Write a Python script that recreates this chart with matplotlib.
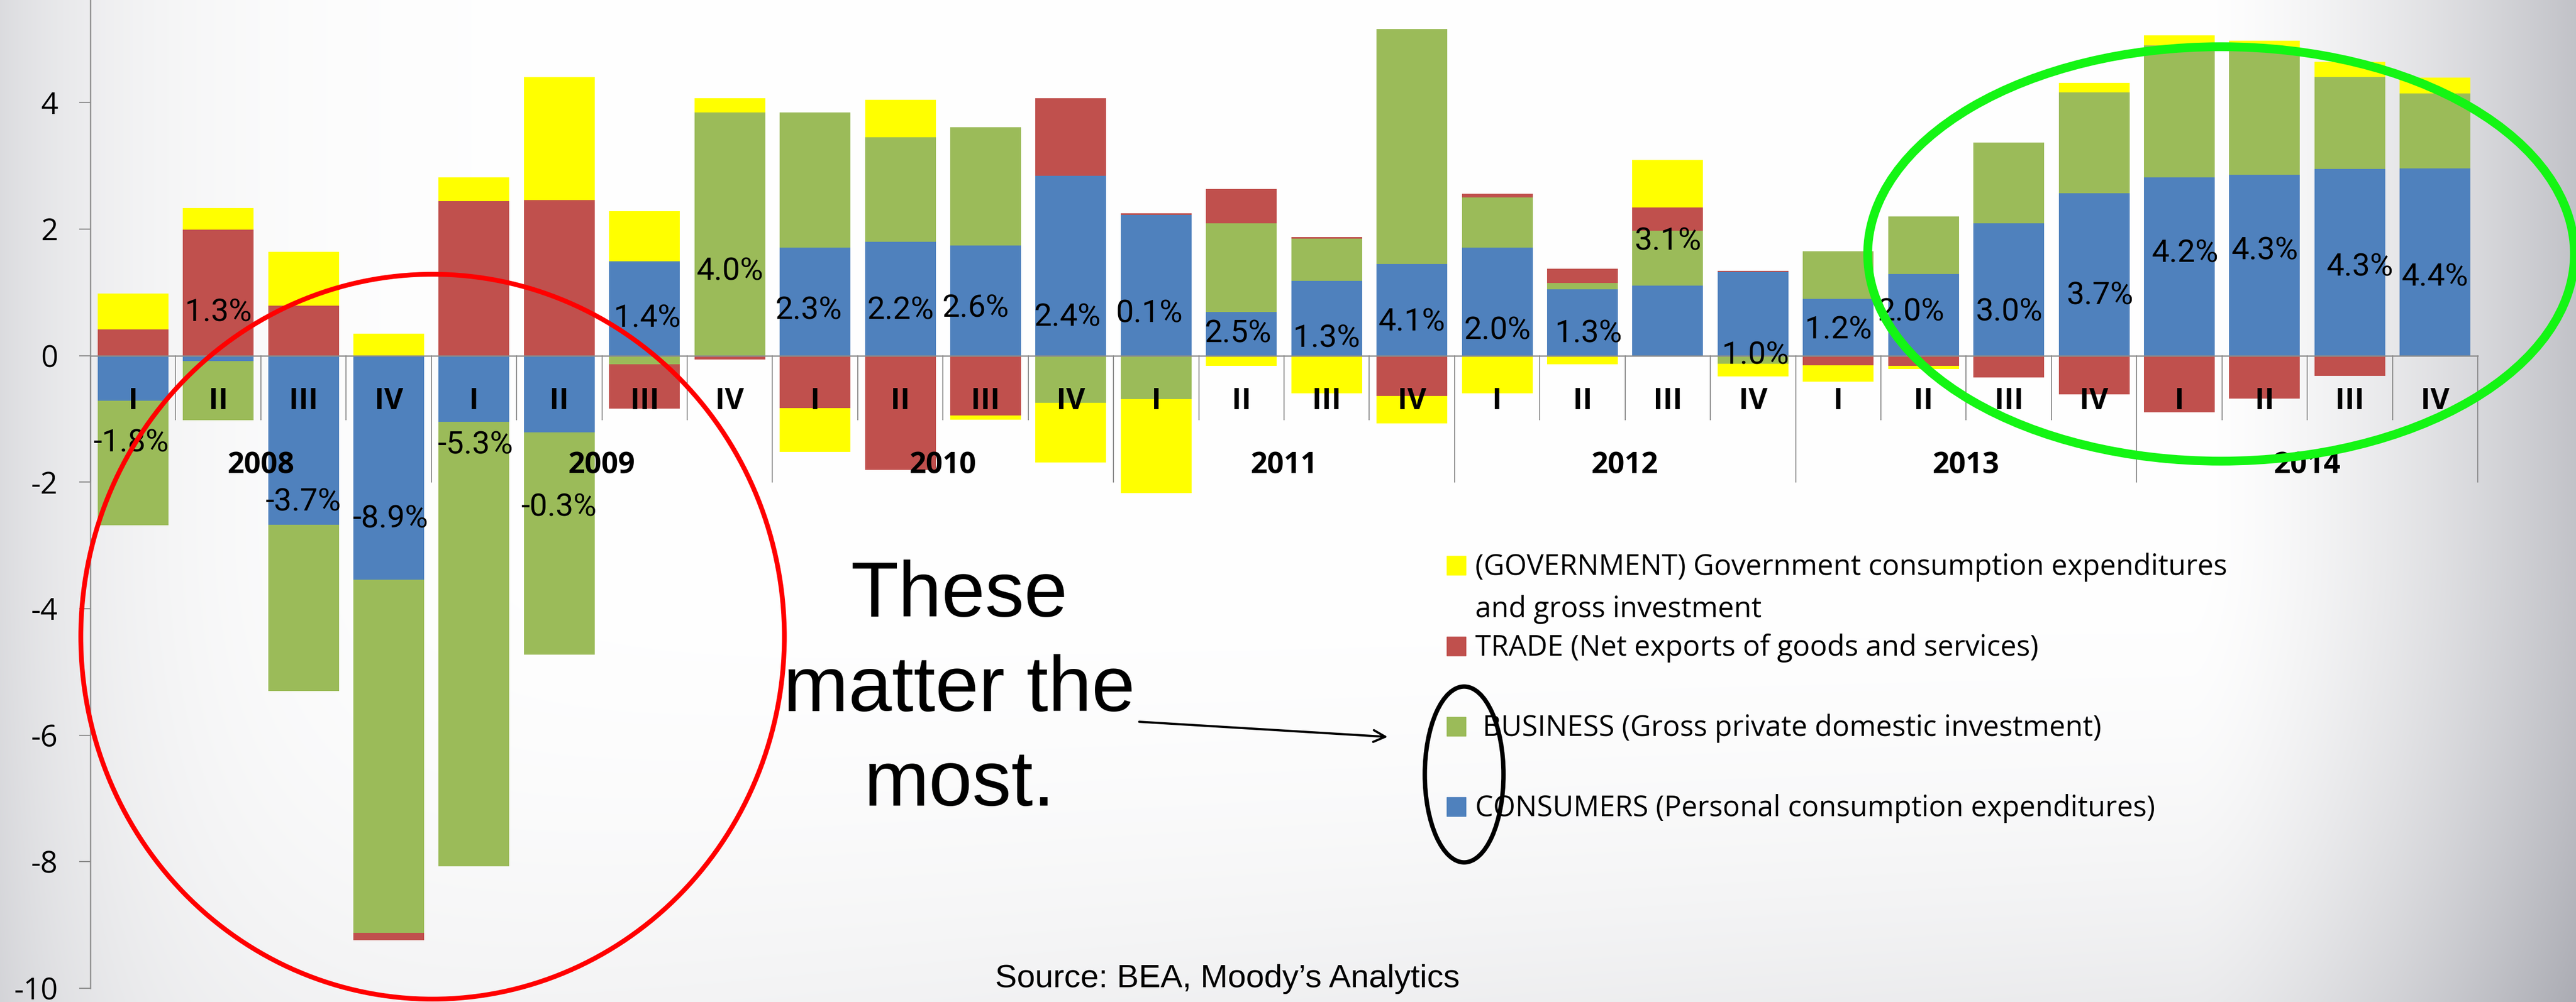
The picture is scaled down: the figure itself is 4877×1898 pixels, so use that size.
import numpy as np
import matplotlib.pyplot as plt
from matplotlib.patches import Ellipse, Rectangle

# contributions to real GDP growth, percentage points, 2008 Q1 .. 2014 Q4
consumers = [-0.71, -0.09, -2.67, -3.54, -1.05, -1.21, 1.49, 0.00,
             1.71, 1.80, 1.74, 2.84, 2.22, 0.69, 1.18, 1.45,
             1.71, 1.05, 1.11, 1.32, 0.90, 1.29, 2.09, 2.57,
             2.82, 2.86, 2.95, 2.96]
business = [-1.97, -0.93, -2.63, -5.58, -7.02, -3.52, -0.14, 3.84,
            2.13, 1.65, 1.87, -0.75, -0.69, 1.40, 0.67, 3.71,
            0.79, 0.10, 0.86, -0.13, 0.75, 0.91, 1.28, 1.59,
            2.08, 2.00, 1.45, 1.18]
trade = [0.41, 1.99, 0.79, -0.12, 2.44, 2.46, -0.70, -0.06,
         -0.83, -1.81, -0.95, 1.23, 0.03, 0.54, 0.02, -0.64,
         0.06, 0.22, 0.37, 0.02, -0.15, -0.165, -0.35, -0.61,
         -0.90, -0.68, -0.32, 0.00]
government = [0.57, 0.34, 0.85, 0.35, 0.38, 1.94, 0.79, 0.23,
              -0.69, 0.59, -0.06, -0.94, -1.48, -0.16, -0.60, -0.43,
              -0.60, -0.14, 0.75, -0.20, -0.26, -0.05, 0.00, 0.15,
              0.16, 0.12, 0.24, 0.25]
gdp_growth = [-1.8, 1.3, -3.7, -8.9, -5.3, -0.3, 1.4, 4.0,
              2.3, 2.2, 2.6, 2.4, 0.1, 2.5, 1.3, 4.1,
              2.0, 1.3, 3.1, 1.0, 1.2, 2.0, 3.0, 3.7,
              4.2, 4.3, 4.3, 4.4]
quarters = ['I', 'II', 'III', 'IV'] * 7
years = ['2008', '2009', '2010', '2011', '2012', '2013', '2014']

# where the growth labels sit (data units, centre of the text)
label_y = [-1.33, 0.73, -2.26, -2.53, -1.36, -2.35, 0.64, 1.38,
           0.77, 0.77, 0.80, 0.66, 0.72, 0.40, 0.32, 0.58,
           0.45, 0.40, 1.86, 0.06, 0.46, 0.74, 0.74, 1.00,
           1.67, 1.71, 1.45, 1.29]
label_dx = [-0.02, 0, 0, 0.02, 0.02, 0, 0.03, 0,
            -0.08, 0, -0.12, -0.04, -0.08, -0.04, 0, 0,
            0, 0.07, 0, 0.03, 0, -0.15, 0, 0.07,
            0.07, 0, 0.12, 0]

series = [consumers, business, trade, government]
colors = ['#4F81BD', '#9BBB59', '#C0504D', '#FFFF00']
legend_lines = [['(GOVERNMENT) Government consumption expenditures', 'and gross investment'],
                ['TRADE (Net exports of goods and services)'],
                [' BUSINESS (Gross private domestic investment)'],
                ['CONSUMERS (Personal consumption expenditures)']]

plt.rcParams['font.family'] = ['Open Sans', 'DejaVu Sans']
plt.rcParams['axes.unicode_minus'] = False
GRAY = '#8c8c8c'
NARROW = ['Roboto', 'Open Sans', 'DejaVu Sans']
ARIAL = ['Liberation Sans', 'DejaVu Sans']

W, H = 4877, 1898
fig = plt.figure(figsize=(W / 100, H / 100), dpi=100)

# slide background: light grey shading at the edges
bg = fig.add_axes([0, 0, 1, 1], zorder=0)
xx, yy = np.meshgrid(np.arange(W), np.arange(H))
dark = 0.14 * np.exp(-xx / 250.0)
dark += 0.24 * np.clip((xx - 4150) / 727.0, 0, 1) ** 1.5
dark += np.clip((yy - 1000) / 898.0, 0, 1) ** 2 * (0.03 + 0.06 * xx / W)
img = np.dstack([1 - dark, 1 - dark * 0.99, 1 - dark * 0.9])
bg.imshow(np.clip(img, 0, 1), aspect='auto', extent=(0, W, H, 0))
bg.axis('off')

# chart
ax = fig.add_axes([171 / W, 26 / H, (4691 - 171) / W, 1 - 26 / H], zorder=1)
ax.patch.set_alpha(0)
n = len(consumers)
x = np.arange(n)
pos_base = np.zeros(n)
neg_base = np.zeros(n)
for vals, col in zip(series, colors):
    v = np.array(vals)
    bottom = np.where(v >= 0, pos_base, neg_base)
    ax.bar(x, v, 0.83, bottom=bottom, color=col, zorder=2)
    pos_base += np.where(v >= 0, v, 0)
    neg_base += np.where(v < 0, v, 0)

ax.set_xlim(-0.5, n - 0.5)
ax.set_ylim(-10, 5.62)
ax.set_yticks(range(-10, 5, 2))
ax.tick_params(axis='y', direction='out', length=15, width=1.6, color=GRAY,
               pad=29, labelsize=41)
ax.set_xticks([])
for s in ['top', 'right']:
    ax.spines[s].set_visible(False)
ax.spines['left'].set_color(GRAY)
ax.spines['left'].set_linewidth(1.8)
ax.spines['bottom'].set_position(('data', 0))
ax.spines['bottom'].set_color(GRAY)
ax.spines['bottom'].set_linewidth(1.8)

# multi level category axis
for k in range(n + 1):
    low = -2.0 if k % 4 == 0 else -1.01
    ax.plot([k - 0.5, k - 0.5], [0, low], color=GRAY, lw=1.4, zorder=1, clip_on=False)
for i, q in enumerate(quarters):
    ax.text(i, -0.843, q, ha='center', va='baseline', fontsize=40,
            fontweight='bold', zorder=5)
for j, yr in enumerate(years):
    ax.text(4 * j + 1.5, -1.86, yr, ha='center', va='baseline', fontsize=40,
            fontweight='bold', zorder=5)

for i, g in enumerate(gdp_growth):
    ax.text(i + label_dx[i], label_y[i] - 0.19, f'{g:.1f}%', ha='center',
            va='baseline', fontsize=43, family=NARROW, zorder=5)

# annotations, drawn in image pixels
ov = fig.add_axes([0, 0, 1, 1], zorder=3)
ov.set_xlim(0, W)
ov.set_ylim(H, 0)
ov.axis('off')
ov.patch.set_alpha(0)

entry_base = [1089, 1242, 1394, 1546]
for k, lines in enumerate(legend_lines):
    col = colors[len(colors) - 1 - k]
    ov.add_patch(Rectangle((2739, entry_base[k] - 36), 36, 36, color=col))
    for m, line in enumerate(lines):
        ov.text(2793, entry_base[k] + m * 80, line, ha='left', va='baseline',
                fontsize=39)

for m, line in enumerate(['These', 'matter the', 'most.']):
    ov.text(1816, 1168 + m * 179, line, ha='center', va='baseline',
            fontsize=106.5, family=ARIAL)
ov.annotate('', xy=(2630, 1396), xytext=(2154, 1367),
            arrowprops=dict(arrowstyle='->', lw=3, color='black', mutation_scale=40))
ov.text(2324, 1870, 'Source: BEA, Moody\u2019s Analytics', ha='center', va='baseline',
        fontsize=44.6, family=ARIAL)

ov.add_patch(Ellipse((819, 1206), 1332, 1373, fill=False, ec='#ff0000', lw=6.5))
ov.add_patch(Ellipse((4205, 481), 1338, 785, fill=False, ec='#14f514', lw=12))
ov.add_patch(Ellipse((2772, 1467), 149, 333, fill=False, ec='black', lw=6))

fig.savefig('out.png', dpi=100)
